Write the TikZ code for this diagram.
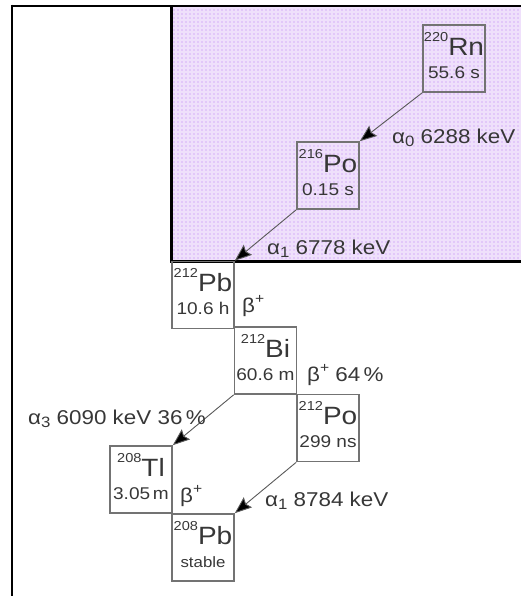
\documentclass[tikz,border=0pt]{standalone}
\usepackage{fontspec}
\setmainfont{Liberation Sans}[FakeStretch=1.12]
\usepackage{tikz}
\usetikzlibrary{arrows.meta, positioning}
\definecolor{lilac}{RGB}{226, 200, 249}
\definecolor{boxgray}{RGB}{115, 115, 115}
\definecolor{textgray}{RGB}{55, 55, 55}

\newcommand{\fsz}[1]{\fontsize{#1}{#1}\selectfont}
\newcommand{\massno}[1]{\raisebox{14pt}{\fsz{13}#1}}
\newcommand{\betaplus}{β\raisebox{9pt}{\fsz{14}+}}
\newcommand{\alphasub}[1]{α\raisebox{-3pt}{\fsz{15}#1}}
% box with mass number, symbol and half-life
\newcommand{\nuclide}[5]{%
  \node[nucbox] (#1) at (#2) {};
  \node[nucsym] at ([yshift=-31pt]#1.north) {\massno{#3}#4};
  \node[nuclife] at ([yshift=-54pt]#1.north) {#5};
}

\begin{document}
\begin{tikzpicture}[
  x=1pt, y=1pt,
  text=textgray,
  nucbox/.style={draw=boxgray, line width=1.6pt, minimum width=62pt, minimum height=67pt, inner sep=0pt},
  nucsym/.style={anchor=base, inner sep=0pt, font=\fsz{25}},
  nuclife/.style={anchor=base, inner sep=0pt, font=\fsz{17}},
  decay/.style={anchor=base west, inner sep=0pt, font=\fsz{20}},
  decayarrow/.style={draw=black!65, line width=0.9pt, -{Stealth[length=17pt, width=13pt, inset=2.5pt, fill=black]}},
  frame/.style={line width=2.5pt, black}
]
\useasboundingbox (0,0) rectangle (521,596);

% shaded radon region
\fill[lilac] (171,335) rectangle (521,590);
\draw[white, opacity=0.45, line width=1.3pt, step=4pt] (171,335) grid (521,590);
\draw[frame] (10.75,590) -- (521,590);
\draw[frame] (12,591.25) -- (12,0);
\draw[frame] (171.5,590) -- (171.5,334.5) -- (521,334.5);

\nuclide{rn220}{454,537.5}{220}{Rn}{55.6 s}
\nuclide{po216}{328,420.5}{216}{Po}{0.15 s}
\nuclide{pb212}{203,301}{212}{Pb}{10.6 h}
\nuclide{bi212}{265.5,235.5}{212}{Bi}{60.6 m}
\nuclide{po212}{328,168}{212}{Po}{299 ns}
\nuclide{tl208}{141,116.5}{208}{Tl}{3.05\,m}
\nuclide{pb208}{203,48.5}{208}{Pb}{\fsz{15}stable}

\draw[decayarrow] (rn220.south west) -- (po216.north east);
\draw[decayarrow] (po216.south west) -- (pb212.north east);
\draw[decayarrow] (bi212.south west) -- (tl208.north east);
\draw[decayarrow] (po212.south west) -- (pb208.north east);

\node[decay] (alpha0) at (392,452) {\alphasub{0} 6288 keV};
\node[decay] (alpha1) at (267,341) {\alphasub{1} 6778 keV};
\node[decay] (betapb) at (242,283) {\betaplus};
\node[decay] (betabi) at (307,214) {\betaplus\ 64\,\%};
\node[decay] (alpha3) at (28,171) {\alphasub{3} 6090 keV 36\,\%};
\node[decay] (betatl) at (180,93) {\betaplus};
\node[decay] (alphapo) at (265,89) {\alphasub{1} 8784 keV};
\end{tikzpicture}
\end{document}
